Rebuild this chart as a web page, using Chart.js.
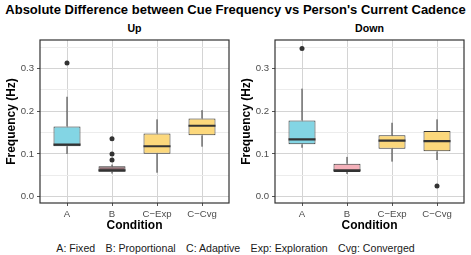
<!DOCTYPE html>
<html><head><meta charset="utf-8">
<script src="https://cdn.jsdelivr.net/npm/chart.js@4"></script>
<style>
body{margin:0;width:471px;height:255px;background:#fff;position:relative;overflow:hidden;font-family:"Liberation Sans",Arial,sans-serif;}
.t{position:absolute;white-space:pre;color:#000;line-height:1;}
#title{left:0;width:471px;top:3px;text-align:center;font-weight:bold;font-size:13px;}
.strip{top:23px;width:189px;text-align:center;font-weight:bold;font-size:10.6px;}
#cap{left:0;width:471px;top:243px;text-align:center;font-size:10.6px;color:#1a1a1a;}
#cap span{margin:0 5.2px;}
canvas{position:absolute;top:0;}
</style></head><body>
<div id="title" class="t">Absolute Difference between Cue Frequency vs Person's Current Cadence</div>
<div class="t strip" style="left:40px">Up</div>
<div class="t strip" style="left:275px">Down</div>
<canvas id="c1" width="236" height="236" style="left:0"></canvas>
<canvas id="c2" width="236" height="236" style="left:235px"></canvas>
<div id="cap" class="t"><span>A: Fixed</span><span>B: Proportional</span><span>C: Adaptive</span><span>Exp: Exploration</span><span>Cvg: Converged</span></div>
<script>
const categories = ['A', 'B', 'C\u2212Exp', 'C\u2212Cvg'];
const yTickValues = [0.0, 0.1, 0.2, 0.3];
const yTickLabels = ['0.0', '0.1', '0.2', '0.3'];
const yMinorValues = [0.05, 0.15, 0.25, 0.35];

// Up panel
const upMin = [0.100, 0.054, 0.056, 0.117];
const upQ1  = [0.118, 0.058, 0.1005, 0.1435];
const upMed = [0.122, 0.0615, 0.118, 0.166];
const upQ3  = [0.1645, 0.071, 0.148, 0.183];
const upMax = [0.234, 0.075, 0.181, 0.2025];
const upOutliers = [[0.313], [0.1355, 0.100, 0.086], [], []];

// Down panel
const downMin = [0.1145, 0.053, 0.082, 0.0857];
const downQ1  = [0.1225, 0.0577, 0.112, 0.106];
const downMed = [0.134, 0.0617, 0.131, 0.130];
const downQ3  = [0.1785, 0.077, 0.1435, 0.154];
const downMax = [0.253, 0.093, 0.173, 0.181];
const downOutliers = [[0.347], [], [], [0.025]];

const upFill = ['#83d5e4', '#8a6b70', '#fcd87c', '#fcd87c'];
const downFill = ['#83d5e4', '#f5b1ba', '#fcd87c', '#fcd87c'];
const dark = '#333333';

const borderPlugin = {
  id: 'panelBorder',
  afterDraw(chart) {
    const a = chart.chartArea, ctx = chart.ctx;
    ctx.save();
    ctx.strokeStyle = dark;
    ctx.lineWidth = 1.2;
    ctx.strokeRect(a.left, a.top, a.right - a.left, a.bottom - a.top);
    ctx.restore();
  }
};

function isMajor(v) { return yTickValues.some(t => Math.abs(t - v) < 1e-9); }

function makeChart(id, mn, q1, md, q3, mx, outl, fills) {
  const boxes = categories.map((c, i) => ({x: i + 1, y: [q1[i], q3[i]]}));
  const whiskers = [];
  categories.forEach((c, i) => {
    whiskers.push({x: i + 1, y: q3[i]}, {x: i + 1, y: mx[i]}, {x: i + 1, y: null});
    whiskers.push({x: i + 1, y: mn[i]}, {x: i + 1, y: q1[i]}, {x: i + 1, y: null});
  });
  const medians = [];
  categories.forEach((c, i) => {
    medians.push({x: i + 1 - 0.3, y: md[i]}, {x: i + 1 + 0.3, y: md[i]}, {x: i + 1, y: null});
  });
  const pts = [];
  outl.forEach((arr, i) => arr.forEach(v => pts.push({x: i + 1, y: v})));

  return new Chart(document.getElementById(id), {
    type: 'bar',
    data: {
      datasets: [
        {type: 'scatter', data: pts, pointRadius: 2.5, pointBackgroundColor: dark, pointBorderWidth: 0, order: 0},
        {type: 'line', data: medians, borderColor: dark, borderWidth: 2.2, pointRadius: 0, spanGaps: false, order: 1, borderCapStyle: 'butt'},
        {type: 'bar', data: boxes, backgroundColor: fills, borderColor: dark, borderWidth: 1, borderSkipped: false,
         categoryPercentage: 1, barPercentage: 0.6, order: 2},
        {type: 'line', data: whiskers, borderColor: dark, borderWidth: 1, pointRadius: 0, spanGaps: false, order: 3}
      ]
    },
    options: {
      responsive: false,
      animation: false,
      devicePixelRatio: 1,
      layout: {padding: {left: 0, right: 7, top: 40, bottom: 0}},
      plugins: {legend: {display: false}, tooltip: {enabled: false}},
      scales: {
        x: {
          type: 'linear', min: 0.4, max: 4.6, offset: false,
          afterBuildTicks: s => { s.ticks = categories.map((c, i) => ({value: i + 1})); },
          afterFit: s => { s.height = 33; },
          ticks: {autoSkip: false, maxRotation: 0, padding: 3, color: '#4d4d4d',
                  font: {family: 'Liberation Sans', size: 9.6},
                  callback: v => categories[Math.round(v) - 1]},
          grid: {offset: false, color: '#d4d4d4', lineWidth: 1, tickColor: '#555', tickLength: 3},
          border: {display: false},
          title: {display: true, text: 'Condition', color: '#000',
                  font: {family: 'Liberation Sans', size: 12, weight: 'bold'}, padding: {top: 0, bottom: 3}}
        },
        y: {
          type: 'linear', min: -0.015, max: 0.367,
          afterBuildTicks: s => { s.ticks = yTickValues.concat(yMinorValues).sort((a, b) => a - b).map(v => ({value: v})); },
          afterFit: s => { s.width = 40; },
          ticks: {padding: 3, color: '#4d4d4d', font: {family: 'Liberation Sans', size: 9.6},
                  callback: v => { const k = yTickValues.findIndex(t => Math.abs(t - v) < 1e-9); return k >= 0 ? yTickLabels[k] : ''; }},
          grid: {color: c => isMajor(c.tick.value) ? '#d4d4d4' : '#ececec', lineWidth: 1,
                 tickColor: c => isMajor(c.tick.value) ? '#555' : 'rgba(0,0,0,0)', tickLength: 3},
          border: {display: false},
          title: {display: true, text: 'Frequency (Hz)', color: '#000',
                  font: {family: 'Liberation Sans', size: 12, weight: 'bold'}, padding: {top: 4, bottom: 0}}
        }
      }
    },
    plugins: [borderPlugin]
  });
}

makeChart('c1', upMin, upQ1, upMed, upQ3, upMax, upOutliers, upFill);
makeChart('c2', downMin, downQ1, downMed, downQ3, downMax, downOutliers, downFill);
</script>
</body></html>
